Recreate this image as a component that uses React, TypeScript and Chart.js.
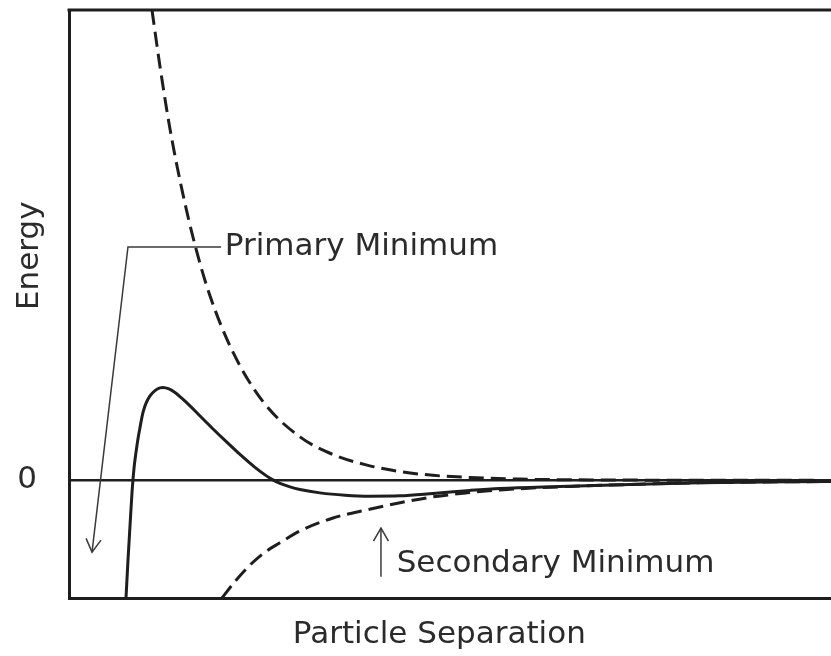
import React, { useEffect, useRef } from 'react';
import { Chart, registerables } from 'chart.js';

Chart.register(...registerables);

// Axis ranges (arbitrary energy units / separation units)
const X_MIN = 0;
const X_MAX = 100;
const Y_MIN = -1;
const Y_MAX = 4;

// Repulsive (dashed, positive) energy curve
const repulsiveX = [10.89, 11.94, 13.25, 14.83, 16.54, 18.5, 21.52, 25.46, 30.31, 34.65, 39.11, 43.44, 47.77, 52.6, 59.2, 69.7, 100];
const repulsiveY = [4.0, 3.52, 2.99, 2.47, 2.0, 1.57, 1.09, 0.67, 0.37, 0.22, 0.13, 0.075, 0.043, 0.025, 0.011, 0.004, 0];

// Attractive (dashed, negative) energy curve
const attractiveX = [20.08, 21.78, 23.75, 25.72, 27.69, 30.31, 34.65, 39.11, 43.44, 47.77, 52.23, 56.56, 65.75, 76.25, 85.43, 100];
const attractiveY = [-1.0, -0.86, -0.72, -0.61, -0.53, -0.43, -0.32, -0.25, -0.19, -0.14, -0.106, -0.081, -0.051, -0.03, -0.017, -0.009];

// Total (solid) energy curve
const totalX = [7.48, 7.74, 8.01, 8.27, 8.53, 8.79, 9.06, 9.32, 9.71, 10.1, 10.63, 11.29, 11.94, 12.34, 13.12, 13.91, 14.83, 15.88, 17.19, 18.77, 20.47, 22.44, 24.41, 25.72, 26.64, 27.69, 29.0, 30.31, 32.94, 36.22, 39.5, 43.44, 47.77, 52.62, 56.56, 64.44, 73.62, 82.81, 100];
const totalY = [-1.0, -0.68, -0.383, -0.102, 0.102, 0.238, 0.357, 0.451, 0.578, 0.655, 0.719, 0.764, 0.787, 0.791, 0.778, 0.748, 0.697, 0.634, 0.548, 0.446, 0.34, 0.221, 0.111, 0.047, 0.0085, -0.026, -0.055, -0.077, -0.106, -0.126, -0.134, -0.131, -0.111, -0.085, -0.068, -0.051, -0.034, -0.021, -0.0085];

// Text
const yTitle = 'Energy';
const xTitle = 'Particle Separation';
const zeroTickLabel = '0';
const primaryLabel = 'Primary Minimum';
const secondaryLabel = 'Secondary Minimum';

// Annotation anchors in data coordinates
const primaryElbow = { x: 7.74, y: 1.985 };
const primaryLineEnd = { x: 19.95, y: 1.985 };
const primaryArrowTip = { x: 3.02, y: -0.61 };
const primaryTextPos = { x: 20.45, y: 1.917 };
const secondaryArrowTip = { x: 40.94, y: -0.405 };
const secondaryArrowBase = { x: 40.94, y: -0.82 };
const secondaryTextPos = { x: 43.0, y: -0.78 };
const yTitlePos = { y: 1.91 };
const xTitlePos = { x: 48.6 };

const FONT = '"DejaVu Sans", Verdana, sans-serif';
const INK = '#1e1e1e';
const TEXT = '#2b2b2b';

const toPoints = (xs: number[], ys: number[]) => xs.map((x, i) => ({ x, y: ys[i] }));

function drawArrowHead(ctx: CanvasRenderingContext2D, fx: number, fy: number, tx: number, ty: number, size: number) {
  const ang = Math.atan2(ty - fy, tx - fx);
  const spread = Math.PI / 6;
  ctx.beginPath();
  ctx.moveTo(tx - size * Math.cos(ang - spread), ty - size * Math.sin(ang - spread));
  ctx.lineTo(tx, ty);
  ctx.lineTo(tx - size * Math.cos(ang + spread), ty - size * Math.sin(ang + spread));
  ctx.stroke();
}

const decorPlugin = {
  id: 'decor',
  afterDatasetsDraw(chart: any) {
    const { ctx, chartArea } = chart;
    const xs = chart.scales.x;
    const ys = chart.scales.y;
    const px = (v: number) => xs.getPixelForValue(v);
    const py = (v: number) => ys.getPixelForValue(v);
    ctx.save();

    // top border of the frame
    ctx.strokeStyle = INK;
    ctx.lineWidth = 3;
    ctx.beginPath();
    ctx.moveTo(chartArea.left - 1.5, chartArea.top);
    ctx.lineTo(chartArea.right, chartArea.top);
    ctx.stroke();

    // Primary minimum leader
    ctx.strokeStyle = '#3a3a3a';
    ctx.lineWidth = 1.5;
    ctx.beginPath();
    ctx.moveTo(px(primaryLineEnd.x), py(primaryLineEnd.y));
    ctx.lineTo(px(primaryElbow.x), py(primaryElbow.y));
    ctx.lineTo(px(primaryArrowTip.x), py(primaryArrowTip.y));
    ctx.stroke();
    drawArrowHead(ctx, px(primaryElbow.x), py(primaryElbow.y), px(primaryArrowTip.x), py(primaryArrowTip.y), 15);

    // Secondary minimum arrow
    ctx.beginPath();
    ctx.moveTo(px(secondaryArrowBase.x), py(secondaryArrowBase.y));
    ctx.lineTo(px(secondaryArrowTip.x), py(secondaryArrowTip.y));
    ctx.stroke();
    drawArrowHead(ctx, px(secondaryArrowBase.x), py(secondaryArrowBase.y), px(secondaryArrowTip.x), py(secondaryArrowTip.y), 15);

    // Labels
    ctx.fillStyle = TEXT;
    ctx.font = `31px ${FONT}`;
    ctx.textAlign = 'left';
    ctx.textBaseline = 'alphabetic';
    ctx.fillText(primaryLabel, px(primaryTextPos.x), py(primaryTextPos.y));
    ctx.fillText(secondaryLabel, px(secondaryTextPos.x), py(secondaryTextPos.y));

    // Axis titles
    ctx.textAlign = 'center';
    ctx.textBaseline = 'middle';
    ctx.fillText(xTitle, px(xTitlePos.x), chartArea.bottom + 37);
    ctx.save();
    ctx.translate(30, py(yTitlePos.y));
    ctx.rotate(-Math.PI / 2);
    ctx.fillText(yTitle, 0, 0);
    ctx.restore();

    ctx.restore();
  },
};

export default function App() {
  const canvasRef = useRef<HTMLCanvasElement | null>(null);

  useEffect(() => {
    if (!canvasRef.current) return;
    const common = {
      fill: false,
      pointRadius: 0,
      borderColor: INK,
      borderWidth: 3,
      cubicInterpolationMode: 'monotone' as const,
    };
    const chart = new Chart(canvasRef.current, {
      type: 'line',
      data: {
        datasets: [
          { ...common, label: 'Repulsive', data: toPoints(repulsiveX, repulsiveY), borderDash: [15, 7] },
          { ...common, label: 'Attractive', data: toPoints(attractiveX, attractiveY), borderDash: [15, 7] },
          { ...common, label: 'Total', data: toPoints(totalX, totalY) },
        ],
      },
      options: {
        animation: false,
        responsive: true,
        maintainAspectRatio: false,
        layout: { padding: { top: 10, left: 0, right: 0, bottom: 0 } },
        plugins: { legend: { display: false }, tooltip: { enabled: false } },
        events: [],
        scales: {
          x: {
            type: 'linear',
            min: X_MIN,
            max: X_MAX,
            ticks: { display: false },
            grid: { display: false, drawTicks: false },
            border: { display: true, color: INK, width: 3 },
            afterFit: (s: any) => {
              s.height = 58;
              s.paddingLeft = 0;
              s.paddingRight = 0;
            },
          },
          y: {
            type: 'linear',
            min: Y_MIN,
            max: Y_MAX,
            afterBuildTicks: (s: any) => {
              s.ticks = [{ value: 0 }];
            },
            ticks: {
              padding: 32,
              color: TEXT,
              font: { family: FONT, size: 31 },
              callback: (v: any) => (v === 0 ? zeroTickLabel : null),
            },
            grid: { color: INK, lineWidth: 2.5, drawTicks: false },
            border: { display: true, color: INK, width: 3 },
            afterFit: (s: any) => {
              s.width = 69;
              s.paddingTop = 0;
              s.paddingBottom = 0;
            },
          },
        },
      },
      plugins: [decorPlugin],
    });
    return () => chart.destroy();
  }, []);

  return (
    <div style={{ position: 'fixed', left: 0, top: 0, width: 831, height: 656, background: '#fff' }}>
      <canvas ref={canvasRef} />
    </div>
  );
}
